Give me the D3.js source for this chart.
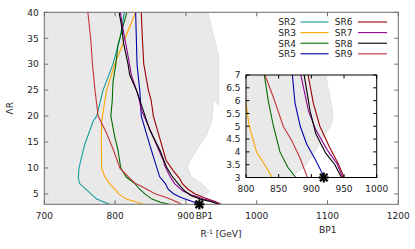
<!DOCTYPE html>
<html><head><meta charset="utf-8">
<script src="https://cdn.jsdelivr.net/npm/d3@7"></script>
<style>body{margin:0;background:#fff}svg{display:block}text{font-family:"DejaVu Sans",sans-serif;font-size:9px;fill:#222}</style>
</head><body><svg id="c" width="415" height="249"></svg>
<script>
// ---- data ----
const seriesNames = ["SR2","SR3","SR4","SR5","SR6","SR7","SR8","SR9"];
const seriesColors = ["#119c9c","#ffa500","#006b00","#0000a8","#990000","#8f008f","#000000","#c43535"];
const SR2 = [[792,3],[774,4],[762,5.5],[750,7],[748,8],[749,10],[757,14.5],[769,19],[774,20],[783,25],[797,30],[807,35],[813,40]];
const SR3 = [[840,3],[831,3.4],[816,4],[805,5],[800,5.9],[792,7],[785,8.5],[781,10],[780.5,15],[781,19],[788,25],[799.5,30],[814,35],[829,40]];
const SR4 = [[876,3],[864,3.4],[852,4],[842,5],[834,6],[828,7],[816,8.2],[808,10],[804,13.5],[799.5,16],[794,20],[796,23],[797,26.5],[801,30],[804,33.7],[816.5,40]];
const SR5 = [[919,3],[916,3.2],[906,3.7],[893,4.3],[883,5],[875,5.9],[871,7],[863,8.3],[854,12.2],[844,16.7],[837,20],[835,24.7],[831,30],[830,35],[829,40]];
const SR6 = [[950,3],[941,3.55],[927.5,4.2],[913,5],[903,5.9],[895,7],[891,8],[882,9.5],[872,11.5],[861,16.7],[854,20],[851,23],[847,25],[840.5,30],[838.5,35],[837,40]];
const SR7 = [[948,3],[939,3.55],[924.5,4.07],[907,4.85],[895.5,5.6],[884,7],[877,8.5],[870,10.5],[868,11.5],[860,14],[849,17.5],[837,21.2],[832.5,24.1],[823,27.9],[818,31.8],[811,36.9],[807.5,40]];
const SR8 = [[946,3],[936,3.5],[922,3.95],[907,4.7],[898,5.6],[889,7],[880,8.5],[872.6,10.2],[863,13.5],[849,17.3],[839.5,21.2],[830,25],[820.7,27.9],[818,30.2],[812,34],[809,37.5],[805.6,40]];
const SR9 = [[894,3],[882,3.8],[869.5,4.46],[857,5],[841.6,6.15],[829,7],[821,8],[807,9.9],[797.5,13.5],[788,16.7],[776,20],[771.6,25],[768,30],[765.5,35],[761.5,40]];
const seriesData = [SR2,SR3,SR4,SR5,SR6,SR7,SR8,SR9];
const region = [[700,3],[700,40],[931,40],[946.6,31.4],[946.6,22.1],[939,23.1],[936.8,19.2],[929,16.35],[906,11.5],[902,10.1],[908,8.3],[922,7],[933,5.5],[931,5.1],[910,4.2],[890,3.43],[867,3]];
const BP1 = [919,3];
const mainXTicks = [700,800,900,1000,1100,1200];
const mainYTicks = [5,10,15,20,25,30,35,40];
const insetXTicks = [800,850,900,950,1000];
const insetYTicks = [3,3.5,4,4.5,5,5.5,6,6.5,7];

// ---- drawing ----
const svg = d3.select("#c");
const x = d3.scaleLinear().domain([700,1200]).range([44.3,398.3]);
const y = d3.scaleLinear().domain([3,40]).range([204.3,12.3]);
const xi = d3.scaleLinear().domain([800,1000]).range([246,376.7]);
const yi = d3.scaleLinear().domain([3,7]).range([177.5,75]);

const defs = svg.append("defs");
defs.append("clipPath").attr("id","cm").append("rect").attr("x",44.3).attr("y",12.3).attr("width",354).attr("height",192);
defs.append("clipPath").attr("id","ci").append("rect").attr("x",246).attr("y",75).attr("width",130.7).attr("height",102.5);

function drawPanel(g, xs, ys, clip){
  const pg = g.append("g").attr("clip-path",`url(#${clip})`);
  pg.append("path").datum(region)
    .attr("d", d3.line().x(d=>xs(d[0])).y(d=>ys(d[1])).curve(d3.curveLinearClosed))
    .attr("fill","#e9e9e9").attr("stroke","#dadada").attr("stroke-width",0.8);
  seriesData.forEach((s,i)=>{
    pg.append("path").datum(s)
      .attr("d", d3.line().x(d=>xs(d[0])).y(d=>ys(d[1])))
      .attr("fill","none").attr("stroke",seriesColors[i]).attr("stroke-width",1.1);
  });
}
function star(g, cx, cy){
  const r = 5, d = 3.8;
  [[-r,0,r,0],[0,-r,0,r],[-d,-d,d,d],[-d,d,d,-d]].forEach(l=>{
    g.append("line").attr("x1",cx+l[0]).attr("y1",cy+l[1]).attr("x2",cx+l[2]).attr("y2",cy+l[3])
     .attr("stroke","#000").attr("stroke-width",2.2);
  });
}
function frame(g, xs, ys, xt, yt, col, tl){
  const [x0,x1] = xs.range(), [y0,y1] = ys.range();
  xt.forEach(t=>{
    g.append("line").attr("x1",xs(t)).attr("x2",xs(t)).attr("y1",y0).attr("y2",y0-tl).attr("stroke",col);
    g.append("line").attr("x1",xs(t)).attr("x2",xs(t)).attr("y1",y1).attr("y2",y1+tl).attr("stroke",col);
  });
  yt.forEach(t=>{
    g.append("line").attr("x1",x0).attr("x2",x0+tl).attr("y1",ys(t)).attr("y2",ys(t)).attr("stroke",col);
    g.append("line").attr("x1",x1).attr("x2",x1-tl).attr("y1",ys(t)).attr("y2",ys(t)).attr("stroke",col);
  });
  g.append("rect").attr("x",x0).attr("y",y1).attr("width",x1-x0).attr("height",y0-y1)
    .attr("fill","none").attr("stroke",col).attr("stroke-width",1);
}

const main = svg.append("g");
drawPanel(main, x, y, "cm");
frame(main, x, y, mainXTicks, mainYTicks, "#6e6e6e", 4);
mainXTicks.forEach(t=>main.append("text").attr("x",x(t)).attr("y",218.5).attr("text-anchor","middle").text(t));
main.append("text").attr("x",x(926)).attr("y",218.5).attr("text-anchor","middle").text("BP1");
mainYTicks.forEach(t=>main.append("text").attr("x",38.8).attr("y",y(t)+3.3).attr("text-anchor","end").text(t));
const xl = main.append("text").attr("x",221).attr("y",237).attr("text-anchor","middle");
xl.append("tspan").text("R");
xl.append("tspan").attr("font-size","6px").attr("dy",-3.5).text("-1");
xl.append("tspan").attr("dy",3.5).text(" [GeV]");
main.append("text").attr("transform","translate(13,108.3) rotate(-90)").attr("text-anchor","middle").text("ΛR");
star(main, x(BP1[0]), y(BP1[1]));

// legend
const lg = svg.append("g");
seriesNames.forEach((n,i)=>{
  const col = Math.floor(i/4), row = i%4;
  const ty = 22 + row*10.6;
  const tx = col ? 352.5 : 296;
  const lx0 = col ? 358 : 300.5, lx1 = col ? 387 : 328.5;
  lg.append("text").attr("x",tx).attr("y",ty+3.3).attr("text-anchor","end").text(n);
  lg.append("line").attr("x1",lx0).attr("x2",lx1).attr("y1",ty).attr("y2",ty).attr("stroke",seriesColors[i]).attr("stroke-width",1.1);
});

// inset
const ins = svg.append("g");
ins.append("rect").attr("x",246).attr("y",75).attr("width",130.7).attr("height",102.5).attr("fill","#fff");
drawPanel(ins, xi, yi, "ci");
frame(ins, xi, yi, insetXTicks, insetYTicks, "#000", 3.5);
insetXTicks.forEach(t=>ins.append("text").attr("x",xi(t)).attr("y",191.8).attr("text-anchor","middle").text(t));
insetYTicks.forEach(t=>ins.append("text").attr("x",240.5).attr("y",yi(t)+3.3).attr("text-anchor","end").text(t));
ins.append("text").attr("x",327.7).attr("y",232.6).attr("text-anchor","middle").text("BP1");
star(ins, xi(BP1[0]), yi(BP1[1]));
</script></body></html>
